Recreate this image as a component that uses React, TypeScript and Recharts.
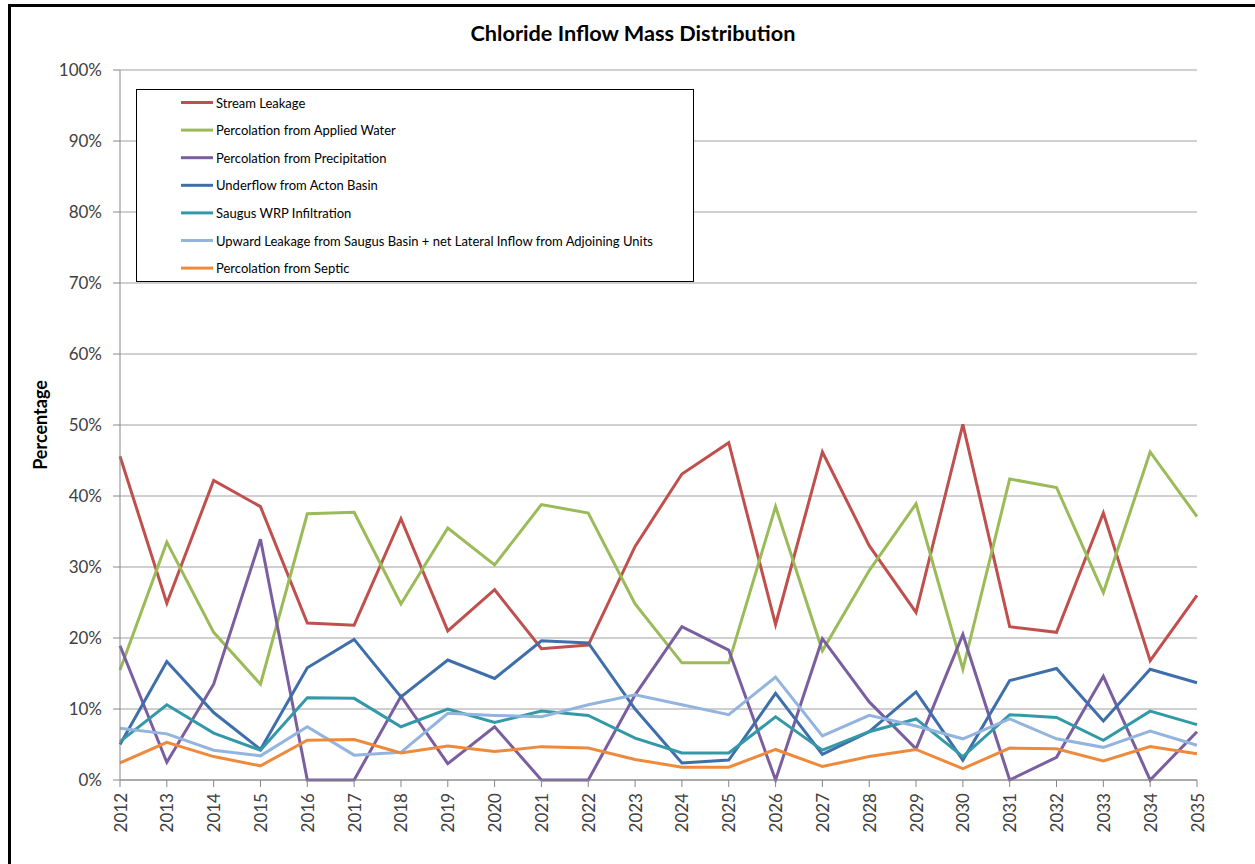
import React from 'react';
import {
  LineChart, Line, XAxis, YAxis, CartesianGrid, Legend,
} from 'recharts';

const years = [
  '2012', '2013', '2014', '2015', '2016', '2017', '2018', '2019', '2020', '2021', '2022', '2023',
  '2024', '2025', '2026', '2027', '2028', '2029', '2030', '2031', '2032', '2033', '2034', '2035',
];

const streamLeakage = [45.6, 24.9, 42.2, 38.5, 22.1, 21.8, 36.8, 21.0, 26.8, 18.5, 19.0, 32.9, 43.1, 47.5, 21.9, 46.2, 33.0, 23.6, 50.1, 21.6, 20.8, 37.6, 16.8, 26.0];
const appliedWater = [15.5, 33.5, 20.8, 13.5, 37.5, 37.7, 24.8, 35.5, 30.3, 38.8, 37.6, 24.8, 16.5, 16.5, 38.5, 18.2, 29.5, 38.9, 15.6, 42.4, 41.2, 26.4, 46.2, 37.1];
const precipitation = [18.9, 2.5, 13.5, 33.9, 0, 0, 11.8, 2.3, 7.5, 0, 0, 12.0, 21.6, 18.3, 0, 19.9, 11.0, 4.4, 20.5, 0, 3.2, 14.6, 0, 6.8];
const actonUnderflow = [5.0, 16.7, 9.5, 4.3, 15.8, 19.8, 11.7, 16.9, 14.3, 19.6, 19.3, 10.0, 2.4, 2.8, 12.2, 3.6, 6.8, 12.4, 2.8, 14.0, 15.7, 8.3, 15.6, 13.7];
const wrpInfiltration = [5.4, 10.6, 6.6, 4.2, 11.6, 11.5, 7.5, 10.0, 8.1, 9.7, 9.1, 5.9, 3.8, 3.8, 8.9, 4.2, 6.8, 8.6, 3.3, 9.2, 8.8, 5.6, 9.7, 7.8];
const upwardLeakage = [7.3, 6.5, 4.2, 3.4, 7.5, 3.5, 3.9, 9.4, 9.1, 8.9, 10.6, 12.0, 10.6, 9.2, 14.5, 6.2, 9.1, 7.6, 5.8, 8.6, 5.8, 4.6, 6.9, 4.9];
const septic = [2.4, 5.3, 3.3, 2.0, 5.6, 5.7, 3.8, 4.8, 4.0, 4.7, 4.5, 2.9, 1.8, 1.8, 4.3, 1.9, 3.3, 4.3, 1.6, 4.5, 4.4, 2.7, 4.7, 3.7];

const yTicks = [0, 10, 20, 30, 40, 50, 60, 70, 80, 90, 100];

const SERIES = [
  { key: 'stream', name: 'Stream Leakage', color: '#c0504d', values: streamLeakage },
  { key: 'applied', name: 'Percolation from Applied Water', color: '#9bbb59', values: appliedWater },
  { key: 'precip', name: 'Percolation from Precipitation', color: '#7a5ea0', values: precipitation },
  { key: 'acton', name: 'Underflow from Acton Basin', color: '#3f6fab', values: actonUnderflow },
  { key: 'wrp', name: 'Saugus WRP Infiltration', color: '#3399a8', values: wrpInfiltration },
  { key: 'upward', name: 'Upward Leakage from Saugus Basin + net Lateral Inflow from Adjoining Units', color: '#92b4df', values: upwardLeakage },
  { key: 'septic', name: 'Percolation from Septic', color: '#ee8a3c', values: septic },
];

const data = years.map((year, i) => {
  const row: Record<string, string | number> = { year };
  SERIES.forEach((s) => { row[s.key] = s.values[i]; });
  return row;
});

const FONT = 'Lato, "Liberation Sans", sans-serif';
const TEXT = '#404040';

const YearTick = ({ x, y, payload }: any) => (
  <text
    x={x}
    y={y}
    transform={`rotate(-90, ${x}, ${y})`}
    textAnchor="end"
    dominantBaseline="central"
    fill={TEXT}
    fontSize={17}
    fontFamily={FONT}
  >
    {payload.value}
  </text>
);

// legend drawn as its own box, placed over the upper-left of the plot
const LegendBox = () => (
  <svg width={558} height={193} style={{ display: 'block' }}>
    <rect x={0.5} y={0.5} width={557} height={192} fill="#fff" stroke="#000" />
    {SERIES.map((s, i) => {
      const cy = 13.5 + i * 27.6;
      return (
        <g key={s.key}>
          <line x1={45} x2={77} y1={cy} y2={cy} stroke={s.color} strokeWidth={3} />
          <text x={80} y={cy} dominantBaseline="central" fontSize={13} fontFamily={FONT} fill="#000">
            {s.name}
          </text>
        </g>
      );
    })}
  </svg>
);

export default function App() {
  return (
    <div style={{ position: 'absolute', left: 0, top: 0, width: 1255, height: 864, background: '#fff' }}>
      <div
        style={{
          position: 'absolute', left: 8, top: 4, width: 1247, height: 860,
          borderLeft: '3px solid #000', borderTop: '3px solid #000', boxSizing: 'border-box',
        }}
      />
      <div
        style={{
          position: 'absolute', left: 0, width: 1266, top: 20, textAlign: 'center',
          fontFamily: FONT, fontWeight: 700, fontSize: 21.7, color: '#000',
        }}
      >
        Chloride Inflow Mass Distribution
      </div>
      <LineChart
        width={1255}
        height={864}
        data={data}
        margin={{ top: 70, right: 58, left: 0, bottom: 0 }}
        style={{ position: 'absolute', left: 0, top: 0 }}
      >
        <CartesianGrid horizontal vertical={false} stroke="#a0a0a0" />
        <XAxis
          dataKey="year"
          interval={0}
          height={84}
          tick={<YearTick />}
          tickSize={7}
          tickMargin={6}
          axisLine={{ stroke: '#868686' }}
          tickLine={{ stroke: '#868686' }}
        />
        <YAxis
          width={120}
          domain={[0, 100]}
          ticks={yTicks}
          tickFormatter={(v) => `${v}%`}
          tickSize={7}
          tickMargin={11}
          axisLine={{ stroke: '#868686' }}
          tickLine={{ stroke: '#868686' }}
          tick={{ fill: TEXT, fontSize: 17, fontFamily: FONT }}
          label={{
            content: () => (
              <text
                x={40}
                y={425}
                transform="rotate(-90, 40, 425)"
                textAnchor="middle"
                dominantBaseline="central"
                fontSize={18}
                fontWeight={700}
                fontFamily={FONT}
                fill="#000"
              >
                Percentage
              </text>
            ),
          }}
        />
        <YAxis
          yAxisId="frame"
          orientation="right"
          width={0}
          domain={[0, 100]}
          tick={false}
          tickLine={false}
          axisLine={{ stroke: '#868686' }}
        />
        <Legend
          layout="horizontal"
          verticalAlign="middle"
          align="center"
          content={() => <LegendBox />}
          wrapperStyle={{ position: 'absolute', left: 136, top: 89, width: 558, height: 193 }}
        />
        {SERIES.map((s) => (
          <Line
            key={s.key}
            type="linear"
            dataKey={s.key}
            name={s.name}
            stroke={s.color}
            strokeWidth={3}
            dot={false}
            activeDot={false}
            isAnimationActive={false}
          />
        ))}
      </LineChart>
    </div>
  );
}
